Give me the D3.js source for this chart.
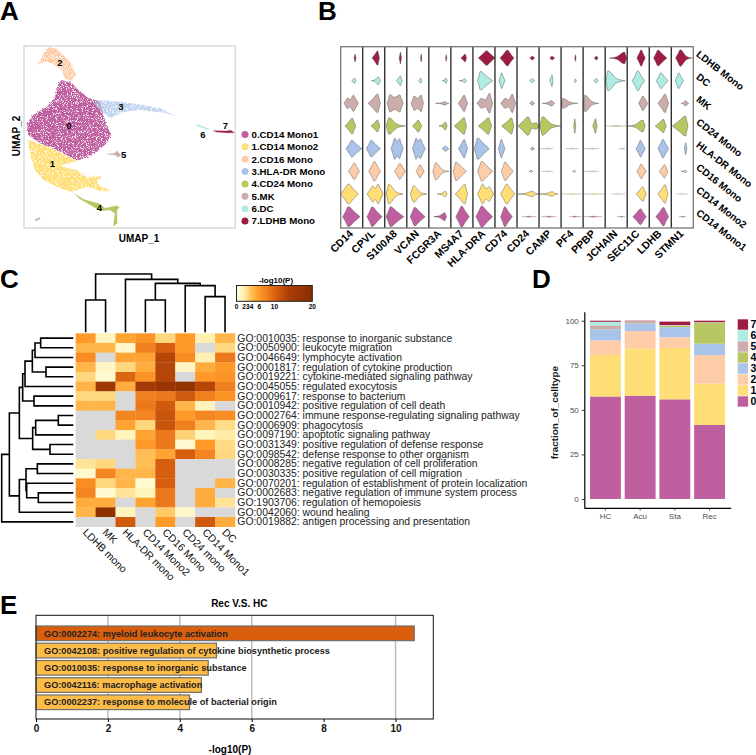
<!DOCTYPE html>
<html>
<head>
<meta charset="utf-8">
<script src="https://d3js.org/d3.v7.min.js"></script>
<style>
  body { margin: 0; background: #fff; }
  text { font-family: "Liberation Sans", Arial, sans-serif; }
</style>
</head>
<body>
<div id="chart"></div>
<script>
// ---- shared cluster colours
var clusterColors = ["#BF5F9F", "#FFDE75", "#FFCCA8", "#AAC3E8", "#B8C761", "#CBADAC", "#AEEBE3", "#9E1B41"];

// ---- A: UMAP, cluster outlines (umap units)
var umap0 = [[11.3,44.4],[14.3,43.6],[16.3,41.4],[19.3,39.1],[22.8,37.9],[23.3,35.4],[24.8,30.9],[26.1,27.9],[24.8,25.4],[21.8,22.9],[19,21.4],[16,20.2],[12.8,21.9],[8.8,23.9],[4.8,25.4],[1.3,27.9],[0.8,31.4],[2.8,33.9],[6.8,36.4],[9.3,38.9],[9.8,42.4]];
var umap1 = [[1.3,26.4],[4.8,25.2],[8.8,23.7],[12.8,21.7],[16,20.2],[13.3,19.4],[10.8,18.7],[15.8,17.4],[18.8,15.4],[23.8,15.4],[21.8,14.1],[22.8,12.6],[26.3,11.2],[22.8,11.2],[18.8,12.4],[14.3,10.9],[10.8,11.9],[5.8,14.4],[3.3,17.4],[2,21.4]];
var umap2 = [[3.8,48.9],[5.3,50.9],[6.3,53.4],[7.8,54.4],[9.8,53.6],[11.8,51.9],[13.8,49.9],[15.6,45.9],[14.3,44.2],[12.3,44.9],[11.3,47.4],[9.3,48.9],[6.8,49.9],[4.8,49.4]];
var umap3 = [[20.8,37.4],[22.8,38.4],[28.8,37.9],[35.8,36.9],[40.8,35.9],[45.6,33.7],[40.8,34.9],[34.8,35.4],[30.3,34.9],[25.8,33.1],[23.3,34.9]];
var umap4 = [[15.3,10.2],[17.8,8.6],[22.8,7.2],[24.3,5.9],[27.8,6.7],[28.6,6.2],[27.8,5.2],[28,1.4],[26.8,0.6],[27.3,4.4],[25.8,5.4],[22.8,5.2],[19.3,7.3],[16.8,8.7]];
var umap5 = [[24.8,22.2],[27.3,22.4],[27.8,23.2],[29,21.9],[28.3,21.2],[27.3,21.9]];
var umap5b = [[3.3,2.4],[4.8,3.1],[4.6,2.7],[3.5,2.2]];
var umap6 = [[51.8,31.1],[55.5,29.8],[55.3,29.4],[51.8,30.7]];
var umap7 = [[56.8,29.2],[60.8,29.1],[62,29.3],[63.1,28.6],[60.8,28.6],[57.8,28.8]];
var umapClusters = [umap0, umap1, umap2, umap3, umap4, umap5, umap6, umap7];
var umapLabels = [[13.5,30.8],[8.5,19.2],[10.8,49.7],[29.1,36.3],[22.6,6.2],[29.9,22.1],[53.7,28.1],[60.4,30.8]];
var clusterNames = ["0.CD14 Mono1", "1.CD14 Mono2", "2.CD16 Mono", "3.HLA-DR Mono", "4.CD24 Mono", "5.MK", "6.DC", "7.LDHB Mono"];

// ---- B: stacked violins. each cell is [start, peak, end, density] and optionally a 2nd lobe [peak2, density2]
var genes = ["CD14", "CPVL", "S100A8", "VCAN", "FCGR3A", "MS4A7", "HLA-DRA", "CD74", "CD24", "CAMP", "PF4", "PPBP", "JCHAIN", "SEC11C", "LDHB", "STMN1"];
var violinRows = ["LDHB Mono", "DC", "MK", "CD24 Mono", "HLA-DR Mono", "CD16 Mono", "CD14 Mono2", "CD14 Mono1"];
var violinRowClusters = [7, 6, 5, 4, 3, 2, 1, 0];
var vLDHB = [[40,43,46,12],[28,45,50,22],[43,47,50,18],[41,43,45,12],[50,52,54,10],[30,43,47,12],[16,41,66,22],[15,37,57,24],[38,46,53,6],[32,39,47,6],[41,43,45,10],[33,40,45,6],[12,58,65,18],[29,42,54,25],[13,26,53,24],[13,27,63,25]];
var vDC = [[33,42,45,8],[26,47,53,12],[35,47,52,15],[35,42,45,8],[40,52,55,8],[25,42,47,6],[14,22,59,28],[12,20,30,24],[38,46,53,6],[32,39,42,18],[40,43,46,6],[32,40,45,7],[2,8,60,30],[15,32,52,30],[21,35,56,24],[12,22,37,24]];
var vMK = [[10,20,53,16,38,25],[16,45,53,28],[7,15,55,26,45,26],[13,22,50,22,43,25],[20,50,60,5],[22,40,50,25],[12,25,59,15,50,30],[17,30,62,15,52,28],[38,46,53,6],[10,38,47,8],[2,5,50,15],[2,5,47,25],null,[34,47,62,22],[26,48,58,28],[30,42,52,8]];
var vCD24 = [[13,35,45,24],[25,45,51,18],[4,12,62,25],[17,35,45,18],[30,50,55,12],[10,40,47,25],[16,47,56,25],[20,50,57,24],[3,33,66,28,58,10],[2,10,65,28],[38,41,44,22],[29,37,42,22],[2,33,65,1.5],[2,47,54,18],[18,43,51,20],[3,43,50,30]];
var vHLADR = [[16,33,63,25],[11,25,53,25],[19,30,55,32,44,30],[17,28,55,32,40,30],[40,50,60,8],[23,40,50,28],[4,14,49,32],[10,19,30,28],[40,46,53,5],[2,30,42,1.5],[14,30,52,1.5],[2,30,47,1.5],[40,55,60,1.5],[27,40,54,25],[26,41,58,28],[39,43,47,18]];
var vCD16 = [[23,41,56,25],[18,35,53,30],[29,45,62,24],[28,40,52,20],[12,20,60,26],[7,15,47,28],[14,26,59,30],[19,30,55,28],[36,42,48,4],[7,30,42,1.5],[34,40,44,4],[2,30,47,1.5],null,[29,42,57,22],[30,46,56,20],[30,42,47,4]];
var vMono2 = [[0,23,53,30],[13,30,61,24,46,30],[4,12,55,30],[10,20,60,25],[25,50,55,8],[13,42,50,30],[14,29,62,30,49,22],[17,35,59,30],[3,46,66,8],[2,40,57,7],[2,30,62,1.5],[2,30,66,1.5],[20,40,60,1.5],[27,47,57,22],[26,48,56,28],[15,35,50,1.5]];
var vMono1 = [[6,23,58,30],[13,28,58,30],[4,17,57,30],[10,23,55,28],[15,48,53,12],[15,32,55,32],[9,26,59,32],[17,29,52,30],[13,35,58,2],[7,30,52,2],[24,40,62,2],[2,30,57,2],[35,50,60,2],[17,40,57,24],[20,43,58,28],[23,35,45,2]];
var violinCells = [vLDHB, vDC, vMK, vCD24, vHLADR, vCD16, vMono2, vMono1];

// ---- C: GO heatmap, -log10(P) per term and cell type, null = grey
var heatCols = ["LDHB mono", "MK", "HLA-DR mono", "CD14 Mono2", "CD16 Mono", "CD24 mono", "CD14 Mono1", "DC"];
var goTerms = [
  "GO:0010035: response to inorganic substance",
  "GO:0050900: leukocyte migration",
  "GO:0046649: lymphocyte activation",
  "GO:0001817: regulation of cytokine production",
  "GO:0019221: cytokine-mediated signaling pathway",
  "GO:0045055: regulated exocytosis",
  "GO:0009617: response to bacterium",
  "GO:0010942: positive regulation of cell death",
  "GO:0002764: immune response-regulating signaling pathway",
  "GO:0006909: phagocytosis",
  "GO:0097190: apoptotic signaling pathway",
  "GO:0031349: positive regulation of defense response",
  "GO:0098542: defense response to other organism",
  "GO:0008285: negative regulation of cell proliferation",
  "GO:0030335: positive regulation of cell migration",
  "GO:0070201: regulation of establishment of protein localization",
  "GO:0002683: negative regulation of immune system process",
  "GO:1903706: regulation of hemopoiesis",
  "GO:0042060: wound healing",
  "GO:0019882: antigen processing and presentation"
];
var heatValues = [
  [6, 1.5, 5.5, 6.5, 3, 6, 2, 4.5],
  [4.5, 4.5, 1, 8, 10.5, 6, null, 3],
  [7, null, 5.5, 5.5, 13, 7, 2, 8.5],
  [4.5, 1.2, 3, 5, 13, 1.2, 5, 6],
  [3, 0.8, 10, 6.5, 13, null, 6, 6.5],
  [4.5, 16, 5, 15, 17, 18, 13, 8],
  [3, 3, null, 8, 8.5, 11, 8, 6.5],
  [4.5, 4.5, null, 8.5, 11, 4.5, 1.5, null],
  [null, null, 7.5, 7.5, 11.5, 6, 7.5, 7],
  [null, null, 5.5, 3, 11.5, 8, 4.5, 2.8],
  [null, 3, 1.5, 5.5, 8.5, 3.2, 1.5, 2.2],
  [null, null, null, 6, 8.5, 0.8, 6, 2.8],
  [null, null, null, 4, 5.5, 10.5, 7.5, 3],
  [2.5, 3, null, 4, 10.5, null, null, null],
  [0.8, 7.5, 4.5, 4.5, 10.5, null, null, null],
  [7, 3, 4.5, 0.8, 10.5, null, null, 4.5],
  [7.5, 0.8, 2.5, 1.5, 8.5, null, 5, null],
  [5, 5, null, 5.5, 8.5, null, 5, 2.5],
  [4.5, 19, 1.5, null, 3.5, 1, null, null],
  [null, null, 11, null, 6, null, 11, 5]
];
var heatTicks = [0, 2, 3, 4, 6, 10, 20];
// dendrograms: [height, left, right], leaves are row/column indexes
var colTree = [17.5, [9.7, 0, 1], [15.9, 2, [14.7, [9.7, 3, 4], [14, 5, [10.7, 6, 7]]]]];
var rowTree = [21.5,
  [19.2,
    [16.2,
      [15.2, [14.5, [12.3, [11.5, [9.8, 0, 1], 2], [8.2, 3, 4]], 5], [11.8, 6, 7]],
      [12.2, [11.3, [4.5, 8, 9], 10], [7, 11, 12]]],
    [16.2, [14.2, [10.8, 13, 14], [14, 15, [10.5, 16, 17]]], 18]],
  19];

// ---- D: stacked fractions, one array per cluster
var groups = ["HC", "Acu", "Sta", "Rec"];
var frac0 = [57.5, 57.9, 55.9, 41.5];
var frac1 = [23.3, 26.6, 28.8, 23.2];
var frac2 = [8.1, 9.7, 6, 16];
var frac3 = [6.3, 4.3, 5.7, 6.4];
var frac4 = [0.1, 0.1, 0.7, 11.8];
var frac5 = [2.1, 1.2, 0.4, 0.2];
var frac6 = [2.0, 0, 0.1, 0.1];
var frac7 = [0.6, 0.2, 1.9, 0.8];
var fractions = [frac0, frac1, frac2, frac3, frac4, frac5, frac6, frac7];

// ---- E: enrichment bars
var enrichTerms = [
  "GO:0002274: myeloid leukocyte activation",
  "GO:0042108: positive regulation of cytokine biosynthetic process",
  "GO:0010035: response to inorganic substance",
  "GO:0042116: macrophage activation",
  "GO:0002237: response to molecule of bacterial origin"
];
var enrichValues = [10.52, 5.02, 4.79, 4.6, 4.27];
var enrichGrid = [2, 4, 6, 10];
var enrichTicks = [0, 2, 4, 6, 8, 10];

var svg = d3.select("#chart").append("svg")
  .attr("width", 756)
  .attr("height", 755)
  .style("display", "block");

// panel letters
[["A", 0, 19.5], ["B", 318, 20], ["C", 0, 287.5], ["D", 532, 287.5], ["E", 0, 613.5]].forEach(function(d) {
  svg.append("text").attr("x", d[1]).attr("y", d[2]).text(d[0])
    .style("font-size", "26px").style("font-weight", "bold");
});

function label(g, x, y, txt, size, bold, anchor, rotate) {
  var t = g.append("text")
    .attr("transform", "translate(" + x + "," + y + ")" + (rotate ? " rotate(" + rotate + ")" : ""))
    .attr("text-anchor", anchor || "start")
    .style("font-size", size + "px")
    .text(txt);
  if (bold) t.style("font-weight", "bold");
  return t;
}

// ===== panel A
var defs = svg.append("defs");
var grain = defs.append("filter").attr("id", "grain")
  .attr("x", "-10%").attr("y", "-10%").attr("width", "120%").attr("height", "120%")
  .attr("color-interpolation-filters", "sRGB");
grain.append("feTurbulence").attr("type", "fractalNoise").attr("baseFrequency", 1.2)
  .attr("numOctaves", 2).attr("seed", 4).attr("result", "noise");
grain.append("feDisplacementMap").attr("in", "SourceGraphic").attr("in2", "noise")
  .attr("scale", 3).attr("result", "rough");
grain.append("feColorMatrix").attr("in", "noise").attr("type", "matrix")
  .attr("values", "0 0 0 0 0  0 0 0 0 0  0 0 0 0 0  6 0 0 0 -1.8").attr("result", "holes");
grain.append("feComposite").attr("in", "rough").attr("in2", "holes").attr("operator", "in").attr("result", "dots");
grain.append("feGaussianBlur").attr("in", "dots").attr("stdDeviation", 0.3);

var u1 = d3.scaleLinear().domain([0, 63.4]).range([24, 235.3]);
var u2 = d3.scaleLinear().domain([0, 54.6]).range([228, 46]);
var panelA = svg.append("g");
panelA.append("rect")
  .attr("x", u1(0)).attr("y", u2(54.6))
  .attr("width", u1(63.4) - u1(0)).attr("height", u2(0) - u2(54.6))
  .attr("fill", "none").attr("stroke", "#DADADA").attr("stroke-width", 1.5);
var hull = d3.line().x(d => u1(d[0])).y(d => u2(d[1])).curve(d3.curveLinearClosed);
panelA.selectAll("path.cluster")
  .data(umapClusters)
  .enter()
  .append("path")
  .attr("class", "cluster")
  .attr("d", hull)
  .attr("fill", (d, i) => clusterColors[i])
  .attr("fill-opacity", (d, i) => i === 3 ? 0.75 : 1)
  .attr("stroke", (d, i) => clusterColors[i])
  .attr("stroke-width", (d, i) => i < 4 ? 0 : 0.3)
  .attr("filter", (d, i) => i < 4 ? "url(#grain)" : null);
panelA.append("path").attr("d", hull(umap5b)).attr("fill", clusterColors[5]).attr("stroke", clusterColors[5]);
umapLabels.forEach(function(d, i) {
  label(panelA, u1(d[0]), u2(d[1]) + 3.2, String(i), 9.5, true, "middle");
});
label(panelA, 139, 241.5, "UMAP_1", 10, true, "middle");
label(panelA, 20, 136, "UMAP_2", 10, true, "middle", -90);
var legendA = d3.scaleBand().domain(clusterNames).range([128.2, 227.2]);
clusterNames.forEach(function(name, i) {
  panelA.append("circle").attr("cx", 245).attr("cy", legendA(name) + legendA.bandwidth() / 2)
    .attr("r", 3.5).attr("fill", clusterColors[i]);
  label(panelA, 251.5, legendA(name) + legendA.bandwidth() / 2 + 3.4, name, 9.7, true);
});

// ===== panel B
var panelB = svg.append("g");
var geneBand = d3.scaleBand().domain(genes).range([340.7, 693.3]);
var rowBand = d3.scaleBand().domain(violinRows).range([46.7, 228]);
var exprScale = d3.scaleLinear().domain([0, 66]).range([0, geneBand.bandwidth()]);
var densScale = d3.scaleLinear().domain([0, 33]).range([0, 11]);

// a long side of a violin tapers to a thin tail, a short side stays full
function sideFill(side, h) {
  return side > 1.4 * h ? 0.22 : 0.5;
}

function violinProfile(c) {
  var pts = [[c[0], 0]];
  if (c.length > 4) {
    pts.push([(c[0] + c[1]) / 2, c[3] * sideFill(c[1] - c[0], c[3])], [c[1], c[3]],
             [(c[1] + c[4]) / 2, Math.min(c[3], c[5]) * 0.7],
             [c[4], c[5]], [(c[4] + c[2]) / 2, c[5] * sideFill(c[2] - c[4], c[5])]);
  } else {
    pts.push([(c[0] + c[1]) / 2, c[3] * sideFill(c[1] - c[0], c[3])], [c[1], c[3]],
             [(c[1] + c[2]) / 2, c[3] * sideFill(c[2] - c[1], c[3])]);
  }
  pts.push([c[2], 0]);
  return pts;
}

violinRows.forEach(function(row, r) {
  var mid = rowBand(row) + rowBand.bandwidth() / 2;
  genes.forEach(function(gene, g) {
    var cell = violinCells[r][g];
    if (!cell) return;
    var area = d3.area()
      .x(d => geneBand(gene) + exprScale(d[0]))
      .y0(d => mid - densScale(d[1]))
      .y1(d => mid + densScale(d[1]))
      .curve(d3.curveMonotoneX);
    panelB.append("path")
      .attr("d", area(violinProfile(cell)))
      .attr("fill", clusterColors[violinRowClusters[r]])
      .attr("stroke", cell[3] <= 2.5 ? "#999" : "#555")
      .attr("stroke-width", cell[3] <= 2.5 ? 0.3 : 0.45);
  });
  label(panelB, 695.5, mid - 2.5, row, 10, true, "start", 38);
});
genes.forEach(function(gene, g) {
  if (g > 0) {
    panelB.append("line")
      .attr("x1", geneBand(gene)).attr("x2", geneBand(gene))
      .attr("y1", 46.7).attr("y2", 228)
      .attr("stroke", "#111").attr("stroke-width", 1.2);
  }
  label(panelB, geneBand(gene) + geneBand.bandwidth() / 2 + 2, 234.5, gene, 10.5, true, "end", -44);
});
panelB.append("rect")
  .attr("x", 340.7).attr("y", 46.7)
  .attr("width", 352.6).attr("height", 181.3)
  .attr("fill", "none").attr("stroke", "#777").attr("stroke-width", 1.3);

// ===== panel C
var panelC = svg.append("g");
var heatX = d3.scaleBand().domain(d3.range(heatCols.length)).range([75.7, 235]);
var heatY = d3.scaleBand().domain(d3.range(goTerms.length)).range([333.3, 526.7]);
var heatColor = d3.scaleLinear()
  .domain([0, 2, 3, 4, 6, 8, 10.5, 14, 20])
  .range(["#FFFFE6", "#FFEFB0", "#FFD77E", "#FFBE55", "#FF9A28", "#F07F1E", "#D65E0E", "#A83C05", "#8A2E00"]);

heatValues.forEach(function(row, r) {
  panelC.selectAll(null)
    .data(row)
    .enter()
    .append("rect")
    .attr("x", (d, c) => heatX(c))
    .attr("y", heatY(r))
    .attr("width", heatX.bandwidth() + 0.3)
    .attr("height", heatY.bandwidth() + 0.3)
    .attr("fill", d => d === null ? "#D9D9D9" : heatColor(d));
  label(panelC, 237.3, heatY(r) + heatY.bandwidth() / 2 + 3.4, goTerms[r], 10.4, false).style("fill", "#222");
});
heatCols.forEach(function(name, c) {
  label(panelC, heatX(c) + heatX.bandwidth() / 2 - 3.5, 533, name, 10.5, false, "start", 45).style("fill", "#111");
});

// walk a nested tree and draw elbow joins, returns position and height of the node
function drawTree(node, leafPos, heightPos, horizontal, g) {
  if (typeof node === "number") return { pos: leafPos(node), h: 0 };
  var a = drawTree(node[1], leafPos, heightPos, horizontal, g);
  var b = drawTree(node[2], leafPos, heightPos, horizontal, g);
  var pts = [[a.pos, a.h], [a.pos, node[0]], [b.pos, node[0]], [b.pos, b.h]];
  var line = horizontal
    ? d3.line().x(d => heightPos(d[1])).y(d => d[0])
    : d3.line().x(d => d[0]).y(d => heightPos(d[1]));
  g.append("path").attr("d", line(pts))
    .attr("fill", "none").attr("stroke", "#000").attr("stroke-width", 1.6);
  return { pos: (a.pos + b.pos) / 2, h: node[0] };
}
var colHeight = d3.scaleLinear().domain([0, 17.5]).range([332.3, 274]);
drawTree(colTree, c => heatX(c) + heatX.bandwidth() / 2, colHeight, false, panelC);
var rowHeight = d3.scaleLinear().domain([0, 21.5]).range([73.3, 1.7]);
drawTree(rowTree, r => heatY(r) + heatY.bandwidth() / 2, rowHeight, true, panelC);

// colour key
var keyScale = d3.scaleLinear().domain([0, 20]).range([236.5, 312.3]);
var keyGrad = defs.append("linearGradient").attr("id", "heatKey");
heatColor.domain().forEach(function(v) {
  keyGrad.append("stop").attr("offset", (v / 20 * 100) + "%").attr("stop-color", heatColor(v));
});
panelC.append("rect")
  .attr("x", keyScale(0)).attr("y", 285.5)
  .attr("width", keyScale(20) - keyScale(0)).attr("height", 15.8)
  .attr("fill", "url(#heatKey)").attr("stroke", "#222").attr("stroke-width", 1);
heatTicks.forEach(function(t) {
  label(panelC, keyScale(t), 309.2, String(t), 6.5, true, "middle");
});
label(panelC, 276, 282.8, "-log10(P)", 8, true, "middle");

// ===== panel D
var panelD = svg.append("g");
var barX = d3.scaleBand().domain(groups).range([584.3, 730.7]).paddingInner(0.11).paddingOuter(0.164);
var barY = d3.scaleLinear().domain([-5, 105]).range([507.9, 311.8]);
var stackInput = groups.map(function(g, i) {
  var row = { group: g };
  fractions.forEach(function(f, k) { row[k] = f[i]; });
  return row;
});
var stacked = d3.stack().keys(d3.range(fractions.length))(stackInput);
panelD.selectAll("g.layer")
  .data(stacked)
  .enter()
  .append("g")
  .attr("class", "layer")
  .attr("fill", (d, i) => clusterColors[i])
  .selectAll("rect")
  .data(d => d)
  .enter()
  .append("rect")
  .attr("x", d => barX(d.data.group))
  .attr("y", d => barY(d[1]))
  .attr("width", barX.bandwidth())
  .attr("height", d => barY(d[0]) - barY(d[1]));

var axisLeftD = panelD.append("g").attr("transform", "translate(584.3,0)")
  .call(d3.axisLeft(barY).tickValues([0, 25, 50, 75, 100]).tickSize(2.5).tickSizeOuter(0));
var axisBottomD = panelD.append("g").attr("transform", "translate(0,507.9)")
  .call(d3.axisBottom(barX).tickSize(2.5).tickSizeOuter(0));
[axisLeftD, axisBottomD].forEach(function(ax) {
  ax.select(".domain").attr("stroke", "#000").attr("stroke-width", 1.2);
  ax.selectAll("line").attr("stroke", "#333");
  ax.selectAll("text").style("font-size", "8px").style("fill", "#4D4D4D")
    .style("font-family", '"Liberation Sans", Arial, sans-serif');
});
label(panelD, 558, 412.7, "fraction_of_celltype", 9.9, true, "middle", -90).style("fill", "#111");
d3.range(7, -1, -1).forEach(function(k, i) {
  var top = 319.3 + i * 11;
  panelD.append("rect").attr("x", 737.7).attr("y", top).attr("width", 10.4).attr("height", 10.4)
    .attr("fill", clusterColors[k]);
  label(panelD, 750.5, top + 9, String(k), 10.5, true);
});

// ===== panel E
var panelE = svg.append("g");
var enrichX = d3.scaleLinear().domain([0, 11.05]).range([36, 433.3]);
var enrichY = d3.scaleBand().domain(enrichTerms).range([624.7, 710.9]).paddingInner(0.15).paddingOuter(0.075);
panelE.selectAll("line.grid")
  .data(enrichGrid)
  .enter()
  .append("line")
  .attr("class", "grid")
  .attr("x1", d => enrichX(d)).attr("x2", d => enrichX(d))
  .attr("y1", 615.3).attr("y2", 719)
  .attr("stroke", "#BEBEBE").attr("stroke-width", 1.5);
panelE.selectAll("rect.bar")
  .data(enrichValues)
  .enter()
  .append("rect")
  .attr("class", "bar")
  .attr("x", enrichX(0))
  .attr("y", (d, i) => enrichY(enrichTerms[i]))
  .attr("width", d => enrichX(d) - enrichX(0))
  .attr("height", enrichY.bandwidth())
  .attr("fill", (d, i) => i === 0 ? "#D95F0E" : "#FDBB47")
  .attr("stroke", "#707070")
  .attr("stroke-width", 1.2);
enrichTerms.forEach(function(term) {
  label(panelE, 44, enrichY(term) + enrichY.bandwidth() / 2 + 3.2, term, 9.2, true).style("fill", "#222");
});
panelE.append("rect")
  .attr("x", 36).attr("y", 615.3)
  .attr("width", enrichX.range()[1] - 36).attr("height", 103.7)
  .attr("fill", "none").attr("stroke", "#111").attr("stroke-width", 1);
var axisE = panelE.append("g").attr("transform", "translate(0,719)")
  .call(d3.axisBottom(enrichX).tickValues(enrichTicks).tickFormat(d3.format("d")).tickSize(3).tickSizeOuter(0));
axisE.select(".domain").remove();
axisE.selectAll("text").style("font-size", "10px").style("font-weight", "bold")
  .style("font-family", '"Liberation Sans", Arial, sans-serif').style("fill", "#111");
label(panelE, 239.3, 606.5, "Rec V.S. HC", 10, true, "middle");
label(panelE, 230, 752.5, "-log10(P)", 10, true, "middle");
</script>
</body>
</html>
